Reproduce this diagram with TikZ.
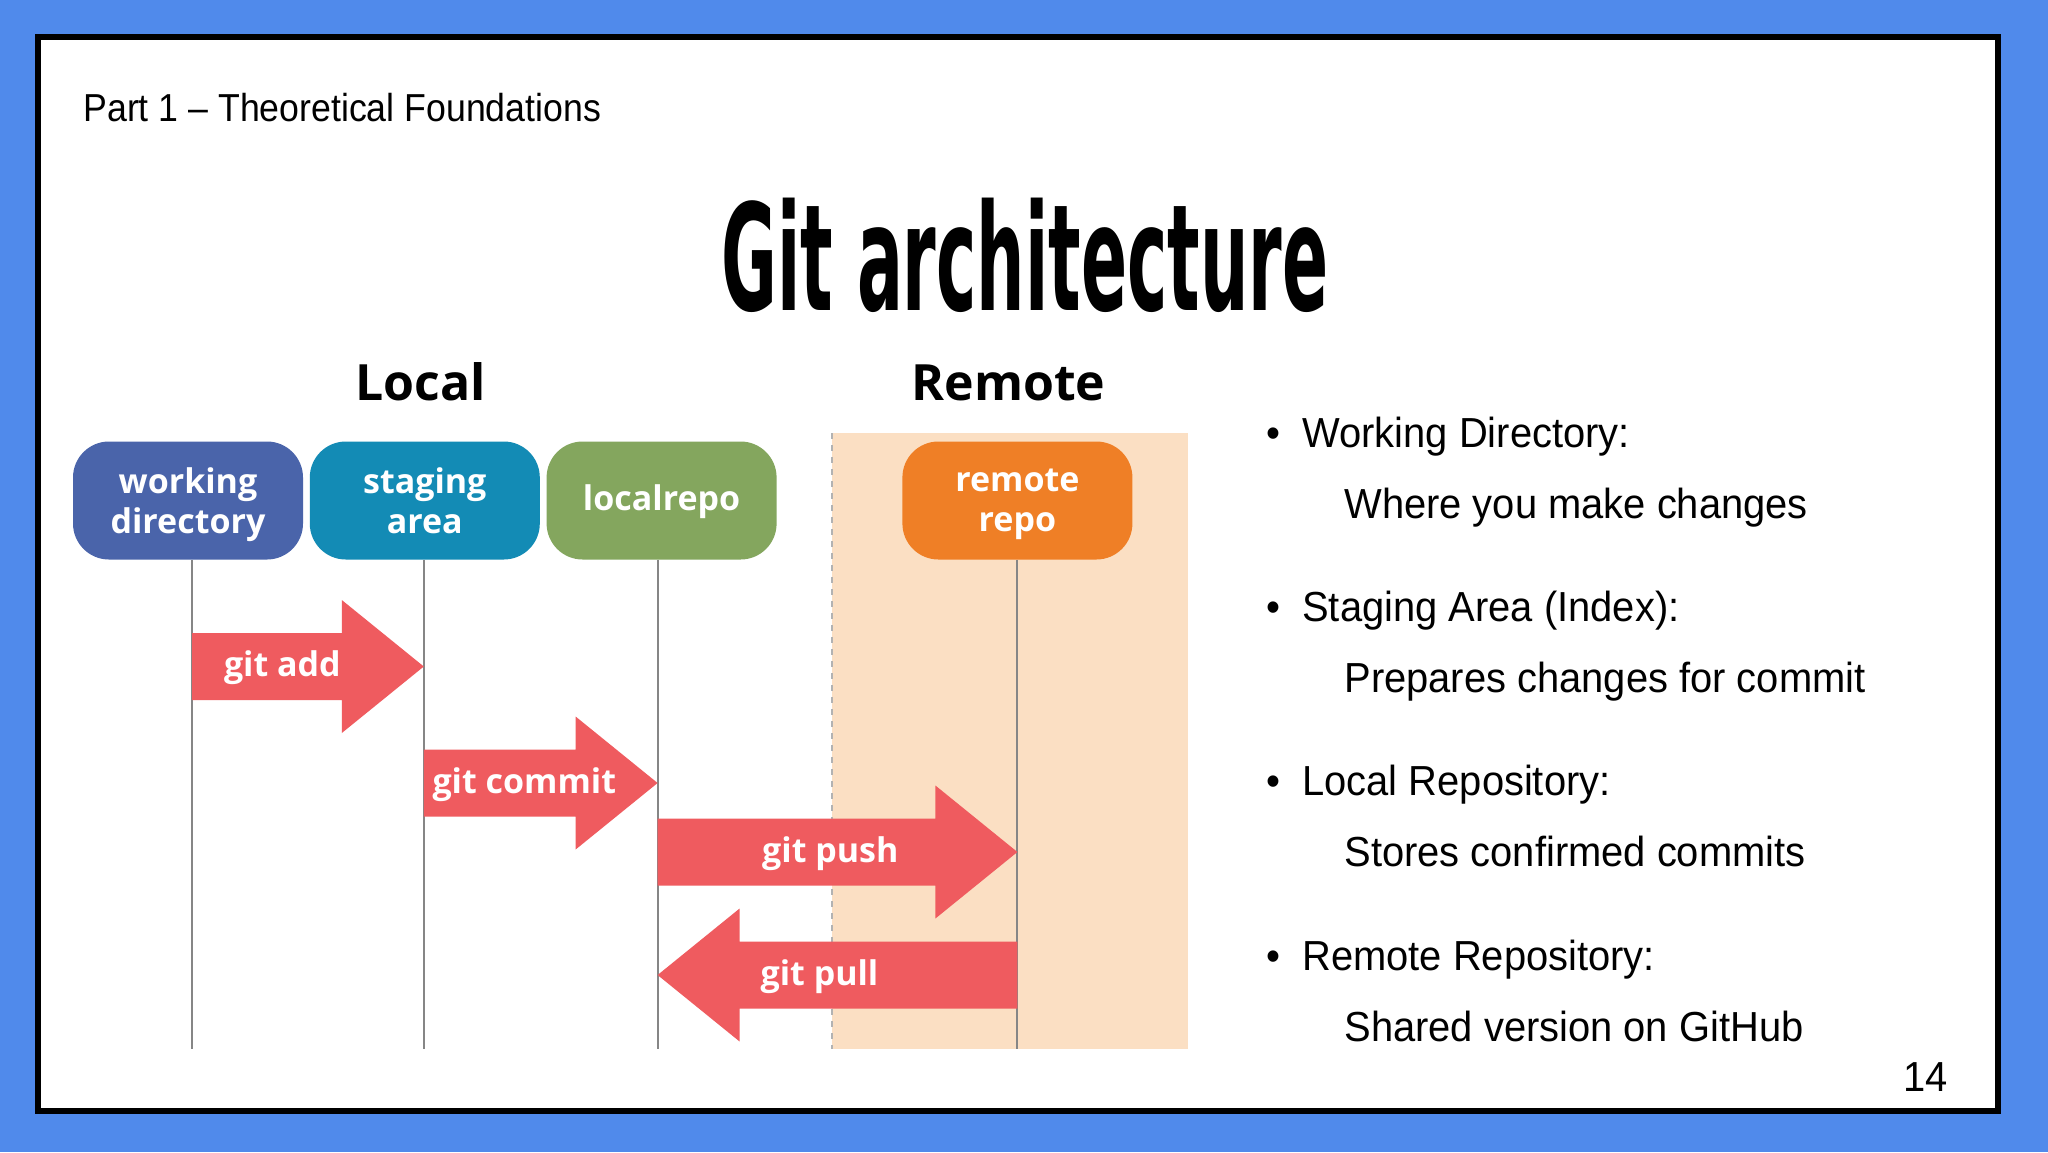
\documentclass[tikz,border=0pt]{standalone}
\usepackage{fontspec}
\usepackage{tikz}
\usetikzlibrary{arrows.meta,positioning,calc}

\setmainfont{Liberation Sans}[FakeStretch=0.95]
\newfontfamily\partfont{Liberation Sans}[FakeStretch=0.915]
\newfontfamily\titlefont{DejaVu Sans}[FakeStretch=0.46]
\newfontfamily\boxfont{Open Sans}

\definecolor{slideblue}{HTML}{508AEB}
\definecolor{wdblue}{HTML}{4A64AA}
\definecolor{sateal}{HTML}{138BB5}
\definecolor{lrgreen}{HTML}{84A65E}
\definecolor{rrorange}{HTML}{EF7F26}
\definecolor{cmdred}{HTML}{EF5B5F}
\definecolor{peach}{HTML}{FBDFC3}

% fat arrow between two lifelines: from, to, y, label pos, name, text
\newcommand{\gitcmd}[6]{%
  \coordinate (#5-a) at (#1-l |- 0,#3);
  \coordinate (#5-b) at (#2-l |- 0,#3);
  \fill[cmdred] let \p1=(#5-a), \p2=(#5-b), \n1={ifthenelse(\x2>\x1,1,-1)} in
    (\x1,\y1+16.75pt) -- (\x2-\n1*41pt,\y1+16.75pt) -- (\x2-\n1*41pt,\y1+33.25pt)
    -- (\x2,\y1) -- (\x2-\n1*41pt,\y1-33.25pt) -- (\x2-\n1*41pt,\y1-16.75pt)
    -- (\x1,\y1-16.75pt) -- cycle;
  \node[cmdlabel] (#5) at ($(#5-a)!#4!(#5-b)+(0,10)$) {#6};
}

\begin{document}
\begin{tikzpicture}[
  x=0.5pt, y=-0.5pt,
  gitbox/.style={rectangle, rounded corners=18pt, minimum width=115pt, minimum height=59pt,
    inner sep=0pt, align=center, text depth=0pt, text=white,
    font=\boxfont\bfseries\fontsize{17}{20}\selectfont},
  heading/.style={inner sep=0pt, font=\boxfont\bfseries\fontsize{25}{30}\selectfont},
  cmdlabel/.style={anchor=base, inner sep=0pt, text=white, font=\boxfont\bfseries\fontsize{17}{20}\selectfont},
  lifeline/.style={draw=gray!95, line width=1pt},
  item/.style={anchor=base west, inner sep=0pt, font=\fontsize{21}{25}\selectfont}
]
  \useasboundingbox (0,0) rectangle (2048,1152);
  \fill[slideblue] (0,0) rectangle (2048,1152);
  \draw[line width=3pt, fill=white] (38,37) rectangle (1998,1111);

  \node[anchor=base west, inner sep=0pt, font=\partfont\fontsize{19.5}{23}\selectfont] (part) at (83,121)
    {Part 1 – Theoretical Foundations};
  \node[anchor=base, inner sep=0pt, font=\titlefont\bfseries\fontsize{74}{80}\selectfont] (title)
    at (1025,310) {Git architecture};

  % Remote zone
  \fill[peach] (832,433) rectangle (1188,1049);
  \draw[dashed, gray!60, line width=0.6pt] (832,433) -- (832,1049);

  \node[gitbox, fill=wdblue] (wd) at (188,500.5) {working\\directory};
  \node[gitbox, fill=sateal, right=3pt of wd] (sa) {staging\\area};
  \node[gitbox, fill=lrgreen, right=3pt of sa, text depth=3pt] (lr) {localrepo};
  \node[gitbox, fill=rrorange, right=62.5pt of lr] (rr) {remote\\repo};

  \node[heading, above=20pt of sa, xshift=-2pt] (local) {Local};
  \node[heading, above=20pt of rr, xshift=-4.5pt] (remote) {Remote};

  \coordinate (base) at (0,1049);
  \foreach \b/\dx in {wd/2,sa/-0.5,lr/-2,rr/0}{
    \coordinate (\b-l) at ([xshift=\dx pt]\b.south);
    \draw[lifeline] (\b-l) -- (\b-l |- base);
  }

  \gitcmd{wd}{sa}{666.5}{0.39}{add}{git add}
  \gitcmd{sa}{lr}{783}{0.43}{commit}{git commit}
  \gitcmd{lr}{rr}{852}{0.48}{push}{git push}
  \gitcmd{rr}{lr}{975}{0.55}{pull}{git pull}

  % Bullet list
  \foreach \head/\desc [count=\i from 0] in {Working Directory:/Where you make changes,
      Staging Area (Index):/Prepares changes for commit,
      Local Repository:/Stores confirmed commits,
      Remote Repository:/Shared version on GitHub}{
    \node[item] (head\i) at (1266,{447.5+174.2*\i}) {\textbullet\hspace{11pt}\head};
    \node[item] (desc\i) at (1344,{518.5+174.2*\i}) {\desc};
  }

  \node[anchor=base east, inner sep=0pt, font=\fontsize{21}{25}\selectfont] (pagenum)
    at (1948,1091.5) {14};
\end{tikzpicture}
\end{document}
